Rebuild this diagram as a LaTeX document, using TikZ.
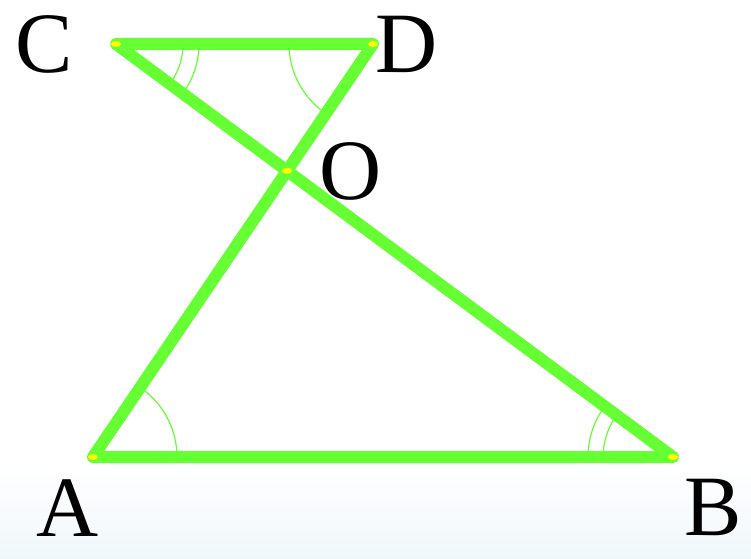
\documentclass[tikz,border=0pt]{standalone}
\usepackage{fontspec}
\setmainfont{Liberation Serif}
\usetikzlibrary{angles,calc}
\definecolor{sidegreen}{RGB}{102,255,51}
\definecolor{dotyellow}{RGB}{255,255,0}
\definecolor{bgblue}{RGB}{240,247,250}
\tikzset{
	side/.style={sidegreen, line width=12pt},
	arcmark/.style={draw=sidegreen, line width=1.2pt},
	pointlabel/.style={inner sep=0pt, font=\fontsize{86}{90}\selectfont}
}
\begin{document}
\begin{tikzpicture}[x=1pt, y=1pt, line join=round, line cap=round]
	\useasboundingbox (0,0) rectangle (751,558);
	\shade[top color=white, bottom color=bgblue] (0,0) rectangle (751,90);
	% Các đỉnh
	\coordinate (A) at (93,101);
	\coordinate (B) at (673,101);
	\coordinate (C) at (116,514);
	\coordinate (D) at (373,514);
	\coordinate (O) at (intersection of C--B and D--A);

	\pic[arcmark, angle radius=67pt] {angle = B--C--D};
	\pic[arcmark, angle radius=83pt] {angle = B--C--D};
	\pic[arcmark, angle radius=84pt] {angle = C--D--A};
	\pic[arcmark, angle radius=84pt] {angle = B--A--D};
	\pic[arcmark, angle radius=70pt] {angle = C--B--A};
	\pic[arcmark, angle radius=85pt] {angle = C--B--A};

	\draw[side] (C)--(D)--(A)--(B)--cycle;
	\foreach \p in {A,B,C,D,O} \fill[dotyellow] (\p) ellipse (5 and 3);

	\node[pointlabel] (lC) at (44,514) {C};
	\node[pointlabel] (lD) at (407,514) {D};
	\node[pointlabel] (lO) at (351,387) {O};
	\node[pointlabel] (lA) at (68,50) {A};
	\node[pointlabel] (lB) at (713,51) {B};
\end{tikzpicture}
\end{document}
